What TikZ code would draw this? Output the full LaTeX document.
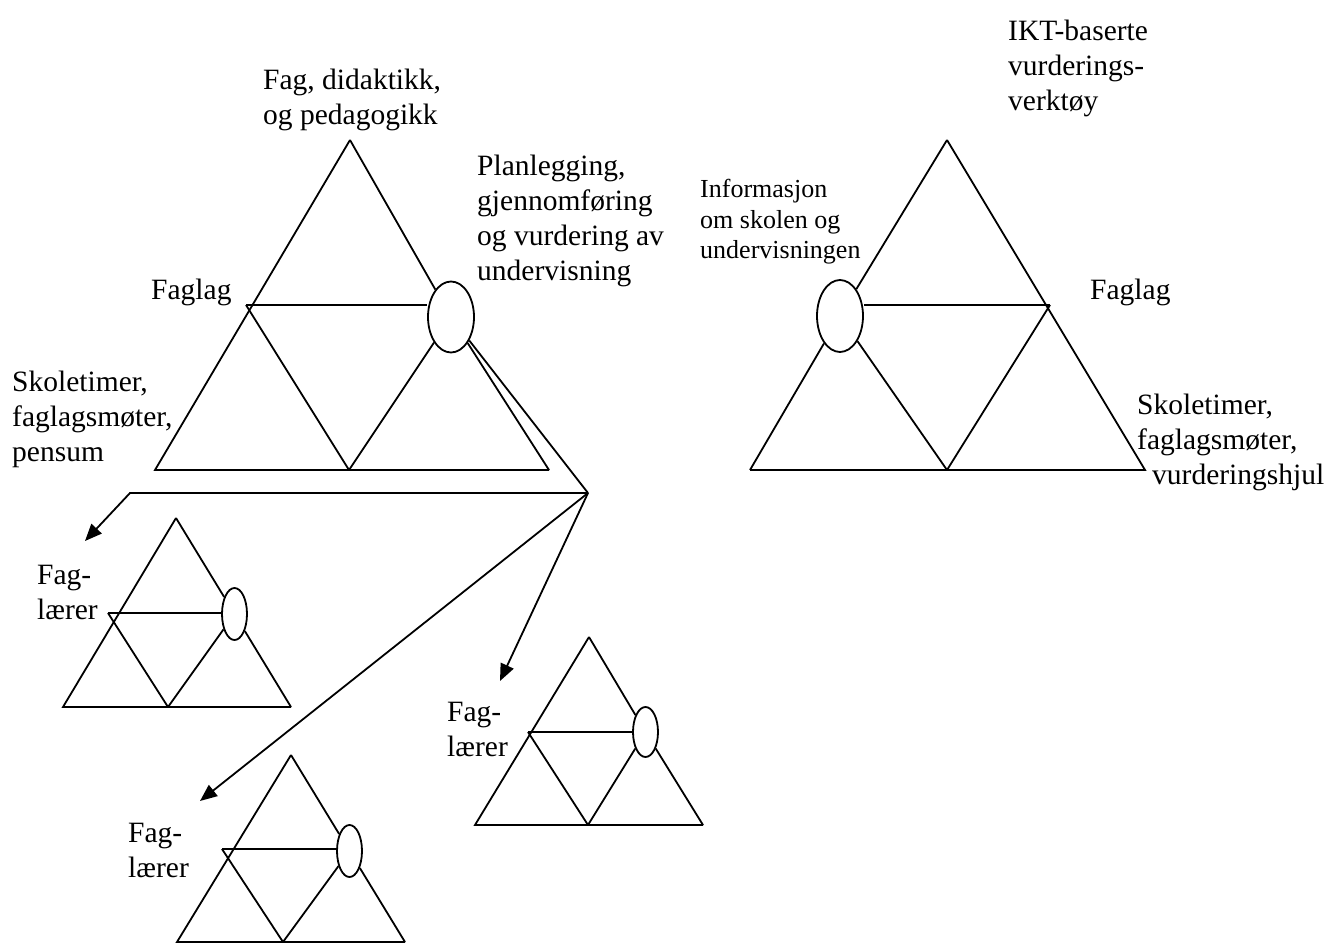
\documentclass[tikz,border=0pt]{standalone}
\usepackage{fontspec}
\setmainfont{Liberation Serif}
\usetikzlibrary{shapes.geometric,arrows.meta}
\begin{document}
\begin{tikzpicture}[x=1pt,y=-1pt,
  line/.style={draw=black,line width=1.8pt},
  oval/.style={ellipse,draw=black,line width=1.8pt,inner sep=0pt},
  arr/.style={line,-{Triangle[length=17pt,width=14pt]}},
  lbl/.style={anchor=north west,inner sep=0pt,align=left,font=\fontsize{29.5}{35}\selectfont},
  slbl/.style={anchor=north west,inner sep=0pt,align=left,font=\fontsize{26}{30.5}\selectfont}]
\useasboundingbox (0,0) rectangle (1339,944);

% ---------- big left triangle ----------
\coordinate (A1) at (350,140);
\coordinate (L1) at (155,470);
\coordinate (R1) at (549,470);
\coordinate (M1) at (349,470);
\coordinate (K1) at (246,305);
\node[oval,minimum width=46pt,minimum height=71pt] (E1) at (451,317) {};
\draw[line] (A1) -- (L1) -- (R1);
\draw[line] (A1) -- (E1);
\draw[line] (E1) -- (R1);
\draw[line] (K1) -- (K1 -| E1.west);
\draw[line] (K1) -- (M1);
\draw[line] (E1) -- (M1);

% ---------- big right triangle ----------
\coordinate (A2) at (947,140);
\coordinate (L2) at (750,470);
\coordinate (R2) at (1145,470);
\coordinate (M2) at (947,470);
\coordinate (K2) at (1050,305);
\node[oval,minimum width=46pt,minimum height=72pt] (E2) at (840,316) {};
\draw[line] (A2) -- (R2) -- (L2);
\draw[line] (A2) -- (E2);
\draw[line] (E2) -- (L2);
\draw[line] (K2) -- (K2 -| E2.east);
\draw[line] (K2) -- (M2);
\draw[line] (E2) -- (M2);

% ---------- small triangle 1 ----------
\coordinate (A3) at (176,518);
\coordinate (L3) at (63,707);
\coordinate (R3) at (291,707);
\coordinate (M3) at (168,707);
\coordinate (K3) at (108,613);
\node[oval,minimum width=25pt,minimum height=52pt] (E3) at (234.5,614) {};
\draw[line] (A3) -- (L3) -- (R3);
\draw[line] (A3) -- (E3);
\draw[line] (E3) -- (R3);
\draw[line] (K3) -- (K3 -| E3.west);
\draw[line] (K3) -- (M3);
\draw[line] (E3) -- (M3);

% ---------- small triangle 2 ----------
\coordinate (A4) at (589,637);
\coordinate (L4) at (475,825);
\coordinate (R4) at (703,825);
\coordinate (M4) at (588,825);
\coordinate (K4) at (528,732);
\node[oval,minimum width=25pt,minimum height=50pt] (E4) at (645.5,732) {};
\draw[line] (A4) -- (L4) -- (R4);
\draw[line] (A4) -- (E4);
\draw[line] (E4) -- (R4);
\draw[line] (K4) -- (K4 -| E4.west);
\draw[line] (K4) -- (M4);
\draw[line] (E4) -- (M4);

% ---------- small triangle 3 ----------
\coordinate (A5) at (291,755);
\coordinate (L5) at (177,942);
\coordinate (R5) at (405,942);
\coordinate (M5) at (283,942);
\coordinate (K5) at (222,849);
\node[oval,minimum width=25pt,minimum height=52pt] (E5) at (349.5,851) {};
\draw[line] (A5) -- (L5) -- (R5);
\draw[line] (A5) -- (E5);
\draw[line] (E5) -- (R5);
\draw[line] (K5) -- (K5 -| E5.west);
\draw[line] (K5) -- (M5);
\draw[line] (E5) -- (M5);

% ---------- connectors ----------
\coordinate (J) at (588,493);
\coordinate (H) at (130,493);
\coordinate (P1) at (85,541);
\coordinate (P2) at (500,681);
\coordinate (P3) at (200,801);
\draw[line] (E1) -- (J);
\draw[arr] (J) -- (H) -- (P1);
\draw[arr] (J) -- (P2);
\draw[arr] (J) -- (P3);

% ---------- labels ----------
\node[lbl] (fag) at (263,69) {Fag, didaktikk,\\og pedagogikk};
\node[lbl] (plan) at (477,155) {Planlegging,\\gjennomføring\\og vurdering av\\undervisning};
\node[lbl] (faglagL) at (151,279) {Faglag};
\node[lbl] (skoleL) at (12,371) {Skoletimer,\\faglagsmøter,\\pensum};
\node[lbl] (ikt) at (1008,20) {IKT-baserte\\vurderings-\\verktøy};
\node[slbl] (info) at (700,179) {Informasjon\\om skolen og\\undervisningen};
\node[lbl] (faglagR) at (1090,279) {Faglag};
\node[lbl] (skoleR) at (1137,394) {Skoletimer,\\faglagsmøter,\\\hspace*{15pt}vurderingshjul};
\node[lbl] (fl1) at (37,565) {Fag-\\lærer};
\node[lbl] (fl2) at (447,702) {Fag-\\lærer};
\node[lbl] (fl3) at (128,823) {Fag-\\lærer};
\end{tikzpicture}
\end{document}
